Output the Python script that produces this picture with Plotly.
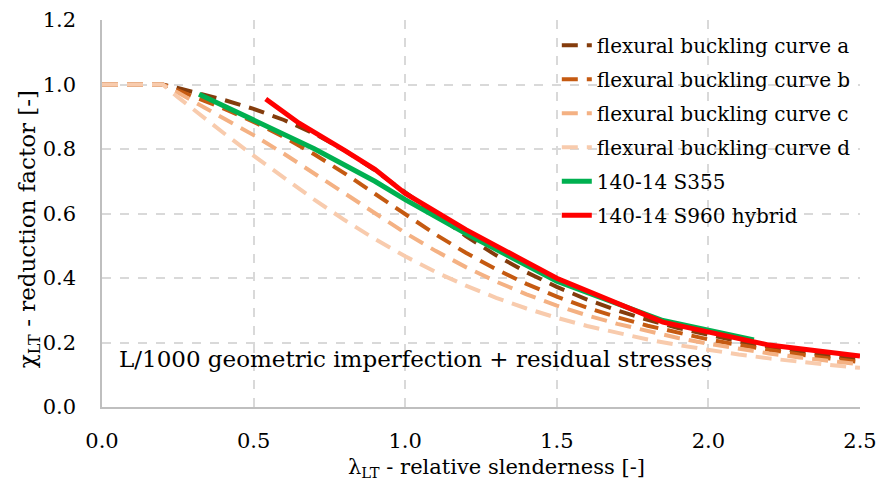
import plotly.graph_objects as go

# Relative slenderness values for EC3 buckling curves
lam_ec3 = [0.0, 0.2, 0.25, 0.3, 0.4, 0.5, 0.6, 0.7, 0.8, 0.9, 1.0, 1.1, 1.2, 1.3, 1.4,
           1.5, 1.6, 1.7, 1.8, 1.9, 2.0, 2.1, 2.2, 2.3, 2.4, 2.5]
curve_a = [1.0, 1.0, 0.989, 0.9775, 0.9528, 0.9243, 0.8900, 0.8477, 0.7957, 0.7339, 0.6656,
           0.5960, 0.5300, 0.4703, 0.4179, 0.3724, 0.3332, 0.2994, 0.2702, 0.2449, 0.2229,
           0.2036, 0.1867, 0.1717, 0.1585, 0.1467]
curve_b = [1.0, 1.0, 0.982, 0.9641, 0.9261, 0.8842, 0.8371, 0.7837, 0.7245, 0.6612, 0.5970,
           0.5352, 0.4781, 0.4269, 0.3817, 0.3422, 0.3079, 0.2781, 0.2521, 0.2294, 0.2095,
           0.1920, 0.1765, 0.1628, 0.1506, 0.1397]
curve_c = [1.0, 1.0, 0.975, 0.9491, 0.8973, 0.8430, 0.7854, 0.7247, 0.6622, 0.5998, 0.5399,
           0.4842, 0.4338, 0.3888, 0.3492, 0.3145, 0.2842, 0.2577, 0.2345, 0.2141, 0.1962,
           0.1803, 0.1662, 0.1537, 0.1425, 0.1325]
curve_d = [1.0, 1.0, 0.961, 0.9235, 0.8504, 0.7793, 0.7100, 0.6431, 0.5797, 0.5208, 0.4671,
           0.4189, 0.3762, 0.3385, 0.3055, 0.2766, 0.2512, 0.2289, 0.2093, 0.1920, 0.1766,
           0.1630, 0.1508, 0.1399, 0.1302, 0.1214]

# Numerical results
lam_s355 = [0.32, 0.5, 0.7, 0.9, 1.0, 1.2, 1.5, 1.85, 2.15]
chi_s355 = [0.970, 0.891, 0.801, 0.700, 0.643, 0.538, 0.390, 0.268, 0.208]
lam_s960 = [0.54, 0.65, 0.8, 0.9, 1.0, 1.2, 1.5, 1.85, 2.2, 2.5]
chi_s960 = [0.955, 0.880, 0.796, 0.737, 0.662, 0.550, 0.399, 0.263, 0.192, 0.158]

names = ["flexural buckling curve a", "flexural buckling curve b",
         "flexural buckling curve c", "flexural buckling curve d",
         "140-14 S355", "140-14 S960 hybrid"]
colors = ["#843C0C", "#C55A11", "#F4B183", "#F8CBAD", "#00B050", "#FF0000"]

x_ticks = [0.0, 0.5, 1.0, 1.5, 2.0, 2.5]
y_ticks = [0.0, 0.2, 0.4, 0.6, 0.8, 1.0, 1.2]

x_title = "λ<sub>LT</sub> - relative slenderness [-]"
y_title = "χ<sub>LT</sub> - reduction factor [-]"
note = "L/1000 geometric imperfection + residual stresses"

FONT = "DejaVu Serif"

fig = go.Figure()
for i, (ys, nm, col) in enumerate(zip([curve_a, curve_b, curve_c, curve_d], names[:4], colors[:4])):
    fig.add_trace(go.Scatter(x=lam_ec3, y=ys, mode="lines", name=nm, legendgroup=f"g{i}",
                             line=dict(color=col, width=4, dash="16px,9px")))
fig.add_trace(go.Scatter(x=lam_s355, y=chi_s355, mode="lines", name=names[4], legendgroup="g4",
                         line=dict(color=colors[4], width=5)))
fig.add_trace(go.Scatter(x=lam_s960, y=chi_s960, mode="lines", name=names[5], legendgroup="g5",
                         line=dict(color=colors[5], width=5)))

fig.add_annotation(x=0.05, y=0.15, xref="x", yref="y", xanchor="left", yanchor="middle",
                   text=note, showarrow=False,
                   font=dict(family=FONT, size=23, color="#000000"))
# axis titles
fig.add_annotation(x=0.52, y=-0.158, xref="paper", yref="paper", xanchor="center",
                   yanchor="middle", text=x_title, showarrow=False,
                   font=dict(family=FONT, size=21, color="#000000"))
fig.add_annotation(x=-0.096, y=0.46, xref="paper", yref="paper", xanchor="center",
                   yanchor="middle", text=y_title, showarrow=False, textangle=-90,
                   font=dict(family=FONT, size=23, color="#000000"))

axis_common = dict(showgrid=True, gridcolor="#D9D9D9", gridwidth=1.5, griddash="dash",
                   zeroline=False, showline=True, linecolor="#BFBFBF", linewidth=1.5,
                   ticks="", automargin=False,
                   tickfont=dict(family=FONT, size=21, color="#000000"))

fig.update_layout(
    width=879, height=492,
    margin=dict(l=102, r=19, t=20, b=85, autoexpand=False),
    paper_bgcolor="white", plot_bgcolor="white",
    font=dict(family=FONT, size=22, color="#000000"),
    showlegend=True,
    legend=dict(x=0.600, y=0.985, xanchor="left", yanchor="top",
                bgcolor="rgba(255,255,255,0)", font=dict(family=FONT, size=20, color="#000000"),
                tracegroupgap=5),
    xaxis=dict(range=[0, 2.5], tickvals=x_ticks, tickformat=".1f",
               ticklabelstandoff=14, **axis_common),
    yaxis=dict(range=[0, 1.2], tickvals=y_ticks, tickformat=".1f",
               ticklabelstandoff=20, **axis_common),
)

fig.write_html("out.html")
